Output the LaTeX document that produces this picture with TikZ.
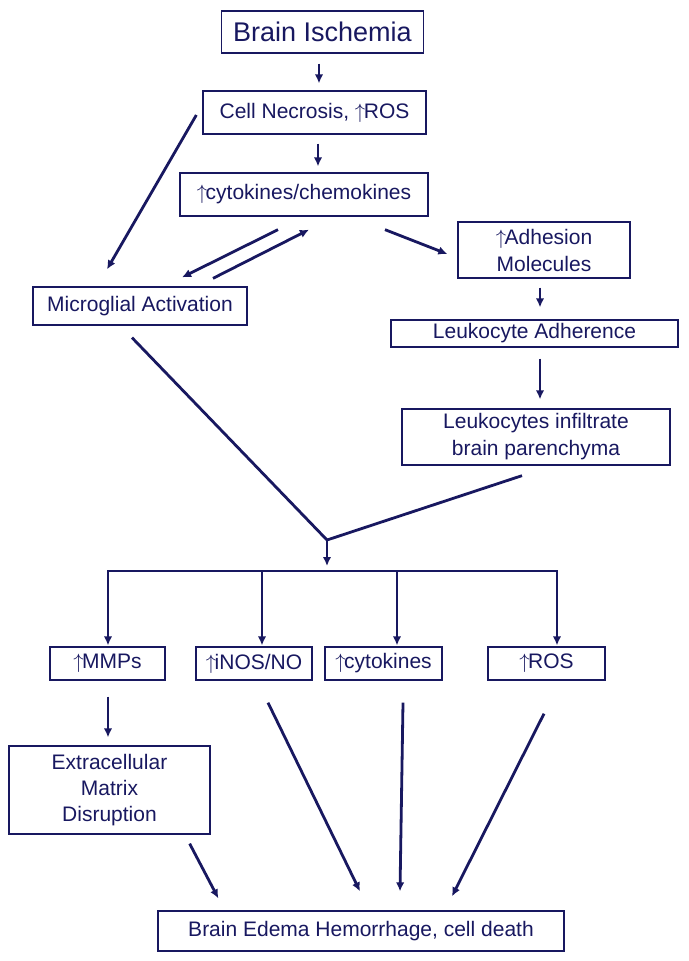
\documentclass[tikz,border=0pt]{standalone}
\usepackage{fontspec}
\setmainfont{Liberation Sans}
\usetikzlibrary{arrows.meta,calc}
\definecolor{navy}{RGB}{24,24,96}
\newcommand{\upar}{\ensuremath{\uparrow}\kern-1.5pt}
\begin{document}
\begin{tikzpicture}[x=1pt,y=-1pt,
  box/.style={draw=navy,line width=1.3pt,rectangle,inner sep=0pt,align=center,text=navy,
    font=\fontsize{21}{27}\selectfont},
  conn/.style={draw=navy,line width=2.8pt},
  arr/.style={conn,-{Latex[length=9pt,width=8.5pt]}}]
\useasboundingbox[fill=white] (0,0) rectangle (688,961);
% nodes
\node[box,minimum width=202pt,minimum height=42pt,font=\fontsize{27}{32}\selectfont] (isch) at (322.5,32) {Brain Ischemia};
\node[box,minimum width=223pt,minimum height=43pt] (necr) at (314.5,112.5) {Cell Necrosis, \upar ROS};
\node[box,minimum width=248pt,minimum height=43pt] (cyto) at (304,194.5) {\upar cytokines/chemokines};
\node[box,minimum width=172pt,minimum height=56pt] (adh) at (544,250) {\upar Adhesion\\Molecules};
\node[box,minimum width=214pt,minimum height=38pt] (micro) at (140,306) {Microglial Activation};
\node[box,minimum width=287pt,minimum height=27pt] (adher) at (534.5,333.5) {Leukocyte Adherence};
\node[box,minimum width=268pt,minimum height=56pt] (infil) at (536,437) {Leukocytes infiltrate\\brain parenchyma};
\node[box,minimum width=115pt,minimum height=33pt] (mmp) at (107.5,663.5) {\upar MMPs};
\node[box,minimum width=116pt,minimum height=33pt] (inos) at (254,663.5) {\upar iNOS/NO};
\node[box,minimum width=117pt,minimum height=33pt] (cytk) at (383.5,663.5) {\upar cytokines};
\node[box,minimum width=117pt,minimum height=33pt] (ros) at (546.5,663.5) {\upar ROS};
\node[box,minimum width=201pt,minimum height=88pt,font=\fontsize{21}{26}\selectfont] (ecm) at (109.5,790) {Extracellular\\Matrix\\Disruption};
\node[box,minimum width=406pt,minimum height=40pt] (final) at (361,931) {Brain Edema Hemorrhage, cell death};
% junction coordinates
\coordinate (J) at (327,540);
\coordinate (Jtip) at (327,566);
\coordinate (b1) at (108,571);
\coordinate (b2) at (262,571);
\coordinate (b3) at (397,571);
\coordinate (b4) at (557,571);
% connectors
\draw[arr] ($(isch.south)+(-3.5,10)$) -- ($(necr.north)+(4.5,-7)$);
\draw[arr] ($(necr.south)+(3.5,9)$) -- ($(cyto.north)+(14,-6)$);
\draw[arr] ($(necr.west)+(-6,2.5)$) -- ($(micro.north)+(-33,-17)$);
\draw[arr] ($(cyto.south)+(-26,13)$) -- ($(micro.north)+(42,-9)$);
\draw[arr] ($(micro.north)+(73,-8)$) -- ($(cyto.south)+(5,13)$);
\draw[arr] ($(cyto.south)+(81,13)$) -- ($(adh.west)+(-10,4)$);
\draw[arr] ($(adh.south)+(-4,9)$) -- ($(adher.north)+(5.5,-12)$);
\draw[arr] ($(adher.south)+(5.5,11)$) -- ($(infil.north)+(4,-9)$);
\draw[conn,line join=miter] ($(micro.south)+(-8,12)$) -- (J) -- ($(infil.south)+(-14,10)$);
\draw[arr] (J) -- (Jtip);
\draw[conn,line cap=rect] (b1) -- (b4);
\draw[arr] (b1) -- ($(b1 |- mmp.north)+(0,-1)$);
\draw[arr] (b2) -- ($(b2 |- inos.north)+(0,-1)$);
\draw[arr] (b3) -- ($(b3 |- cytk.north)+(0,-1)$);
\draw[arr] (b4) -- ($(b4 |- ros.north)+(0,-1)$);
\draw[arr] ($(mmp.south)+(0.5,16)$) -- ($(ecm.north)+(-1.5,-8)$);
\draw[arr] ($(ecm.south east)+(-21,9)$) -- ($(final.north west)+(61,-12)$);
\draw[arr] ($(inos.south)+(14,22)$) -- ($(final.north)+(-1,-19)$);
\draw[arr] ($(cytk.south)+(19.5,22)$) -- ($(final.north)+(39,-19)$);
\draw[arr] ($(ros.south)+(-2.5,33)$) -- ($(final.north)+(91,-14)$);
\end{tikzpicture}
\end{document}
